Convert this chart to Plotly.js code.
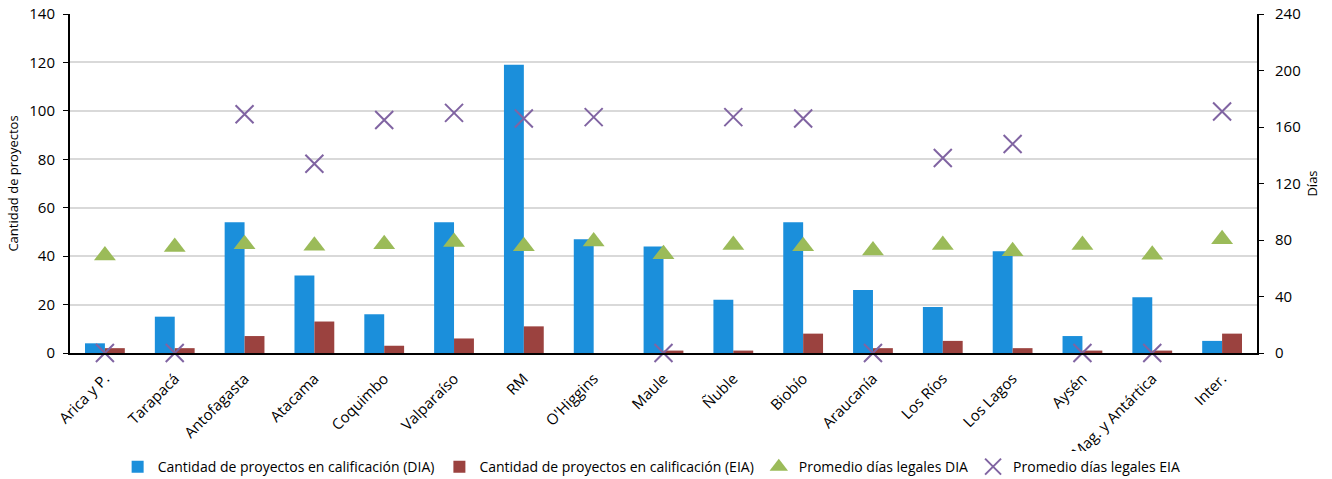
<!DOCTYPE html>
<html>
<head>
<meta charset="utf-8">
<script src="https://cdn.plot.ly/plotly-3.0.1.min.js"></script>
<style>html,body{margin:0;padding:0;background:#fff;}#chart{width:1332px;height:479px;}</style>
</head>
<body>
<div id="chart"></div>
<script>
const categories = ["Arica y P.", "Tarapacá", "Antofagasta", "Atacama", "Coquimbo", "Valparaíso", "RM", "O'Higgins", "Maule", "Ñuble", "Biobío", "Araucanía", "Los Ríos", "Los Lagos", "Aysén", "Mag. y Antártica", "Inter."];
const proyectosDIA = [4, 15, 54, 32, 16, 54, 119, 47, 44, 22, 54, 26, 19, 42, 7, 23, 5];
const proyectosEIA = [2, 2, 7, 13, 3, 6, 11, 0, 1, 1, 8, 2, 5, 2, 1, 1, 8];
const diasDIA = [69, 75, 77, 76, 77, 78.5, 75.5, 79, 70, 76.5, 75.5, 72.5, 76.5, 72, 76.5, 69.5, 80.5];
const diasEIA = [0, 0, 169, 134, 165, 170, 166, 167, 0, 167, 166, 0, 138, 148, 0, 0, 171];
const leftTicks = [0, 20, 40, 60, 80, 100, 120, 140];
const rightTicks = [0, 40, 80, 120, 160, 200, 240];

const font = "Open Sans, Liberation Sans, sans-serif";

const traces = [
  {type: "bar", name: "Cantidad de proyectos en calificación (DIA)", x: categories, y: proyectosDIA,
   marker: {color: "#1B8FDB", line: {width: 0}}},
  {type: "bar", name: "Cantidad de proyectos en calificación (EIA)", x: categories, y: proyectosEIA,
   marker: {color: "#9B423F", line: {width: 0}}},
  {type: "scatter", mode: "markers", name: "Promedio días legales DIA", x: categories, y: diasDIA, yaxis: "y2",
   cliponaxis: false, marker: {symbol: "triangle-up", size: 19, color: "#9BBB59"}},
  {type: "scatter", mode: "markers", name: "Promedio días legales EIA", x: categories, y: diasEIA, yaxis: "y2",
   cliponaxis: false, marker: {symbol: "x-thin", size: 18, color: "#8064A2", line: {width: 2, color: "#8064A2"}}}
];

const layout = {
  width: 1332, height: 479,
  margin: {l: 70, r: 75, t: 14, b: 126},
  paper_bgcolor: "#fff", plot_bgcolor: "#fff",
  font: {family: font, size: 13, color: "#000"},
  barmode: "group", bargap: 0.43, bargroupgap: 0,
  showlegend: true,
  legend: {orientation: "h", x: 0.49, xanchor: "center", xref: "paper", yref: "container", y: 0.025, yanchor: "middle",
           font: {size: 14, family: font}, itemwidth: 30, traceorder: "normal"},
  xaxis: {type: "category", range: [-0.5, categories.length - 0.5], tickangle: -45, showline: true,
          linecolor: "#000", linewidth: 2, ticks: "", showgrid: false, tickfont: {size: 15},
          ticklabelstandoff: 9, automargin: false},
  yaxis: {range: [0, 140], tickvals: leftTicks, showline: true, linecolor: "#000", linewidth: 2,
          ticks: "outside", ticklen: 5, tickcolor: "#000", gridcolor: "#D9D9D9", gridwidth: 2,
          zeroline: false, tickfont: {size: 15}, ticklabelstandoff: 5,
          title: {text: "Cantidad de proyectos", font: {size: 13}, standoff: 8}, automargin: false},
  yaxis2: {range: [0, 240], tickvals: rightTicks, overlaying: "y", side: "right",
           showline: true, linecolor: "#000", linewidth: 2, ticks: "outside", ticklen: 5, tickcolor: "#000",
           showgrid: false, zeroline: false, tickfont: {size: 15}, ticklabelstandoff: 8,
           title: {text: "Días", font: {size: 13}, standoff: 8}, automargin: false}
};

Plotly.newPlot("chart", traces, layout, {staticPlot: true, displayModeBar: false});
</script>
</body>
</html>
